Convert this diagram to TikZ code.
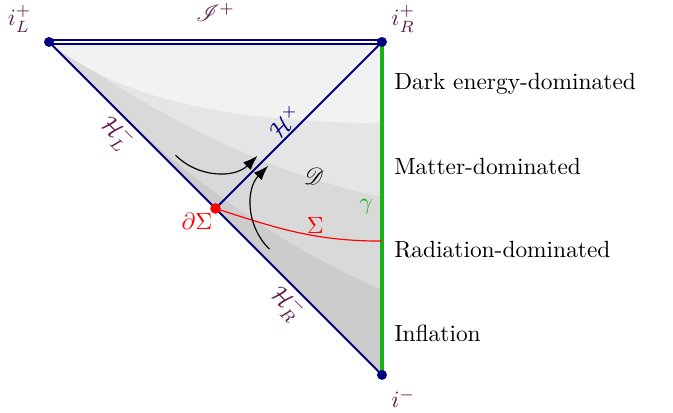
\documentclass[tikz,border=0pt]{standalone}
\usepackage{amsmath,amssymb}
\usepackage{mathrsfs}
\usetikzlibrary{arrows.meta}
\definecolor{navyline}{RGB}{0,0,128}
\definecolor{ptlabel}{RGB}{95,25,75}
\definecolor{gammagreen}{RGB}{20,180,20}
\tikzset{
  edge/.style={draw=navyline, line width=0.8pt},
  ptdot/.style={circle, fill=navyline, inner sep=0pt, minimum size=1.5mm},
  ptlab/.style={text=ptlabel},
  regionlab/.style={anchor=west, font=\normalsize},
  flowarrow/.style={-{Latex[length=2.2mm,width=1.6mm]}, line width=0.5pt, black},
}
\begin{document}
\begin{tikzpicture}
\useasboundingbox (-0.736,-0.571) rectangle (9.37,5.63);
\coordinate (iL) at (0,5);
\coordinate (iR) at (5,5);
\coordinate (im) at (5,0);
\coordinate (dS) at (2.5,2.5);
\coordinate (sE) at (5,2.01);
% shaded bands
\fill[black!20] (iL) -- (im) -- (iR) -- cycle;
\fill[black!15] (iL) .. controls (1.5,3.4) and (3.1,2.1) .. (5,1.28) -- (iR) -- cycle;
\fill[black!10] (iL) .. controls (1.5,4.0) and (3,3.1) .. (5,2.67) -- (iR) -- cycle;
\fill[black!5] (iL) .. controls (1,4.2) and (2.5,3.8) .. (5,3.78) -- (iR) -- cycle;
% edges
\draw[edge, double=white, double distance=1.1pt, line width=0.8pt] (iL) -- node[above=5pt, ptlab] (scri) {$\mathscr{I}^+$} (iR);
\draw[edge] (iL) -- node[pos=0.48, sloped, below, inner sep=1pt, ptlab] (HL) {$\mathcal{H}_L^-$} (dS)
  -- node[pos=0.5, sloped, below, inner sep=1pt, ptlab] (HR) {$\mathcal{H}_R^-$} (im);
\draw[edge] (dS) -- node[pos=0.47, sloped, above, text=navyline, inner sep=1pt] (Hx) {$\mathcal{H}^\times$} (iR);
\draw[gammagreen, line width=1.3pt] (im) -- (iR);
% Sigma
\draw[red, line width=0.5pt] (dS) to[out=-18, in=180] (sE);
% arrows
\coordinate (a1s) at (1.9,3.3);
\coordinate (a1e) at (3.13,3.29);
\coordinate (a2s) at (3.31,1.89);
\coordinate (a2e) at (3.29,3.14);
\draw[flowarrow] (a1s) to[bend right=45] (a1e);
\draw[flowarrow] (a2s) to[bend left=45] (a2e);
% points
\node[ptdot] (niL) at (iL) {};
\node[ptdot] (niR) at (iR) {};
\node[ptdot] (nim) at (im) {};
\node[circle, fill=red, inner sep=0pt, minimum size=1.6mm] (ndS) at (dS) {};
% labels
\node[ptlab] (liL) at (-0.44,5.35) {$i_L^+$};
\node[ptlab] (liR) at (5.32,5.35) {$i_R^+$};
\node[ptlab] (lim) at (5.32,-0.35) {$i^-$};
\node[text=red] (ldS) at (2.22,2.3) {$\partial\Sigma$};
\node[text=red] (lS) at (4.0,2.24) {$\Sigma$};
\node[text=gammagreen] (lg) at (4.76,2.52) {$\gamma$};
\node (lD) at (3.98,2.99) {$\mathscr{D}$};
\node[regionlab] (r1) at (5.06,4.375) {Dark energy-dominated};
\node[regionlab] (r2) at (5.06,3.125) {Matter-dominated};
\node[regionlab] (r3) at (5.06,1.875) {Radiation-dominated};
\node[regionlab] (r4) at (5.06,0.625) {Inflation};
\end{tikzpicture}
\end{document}
